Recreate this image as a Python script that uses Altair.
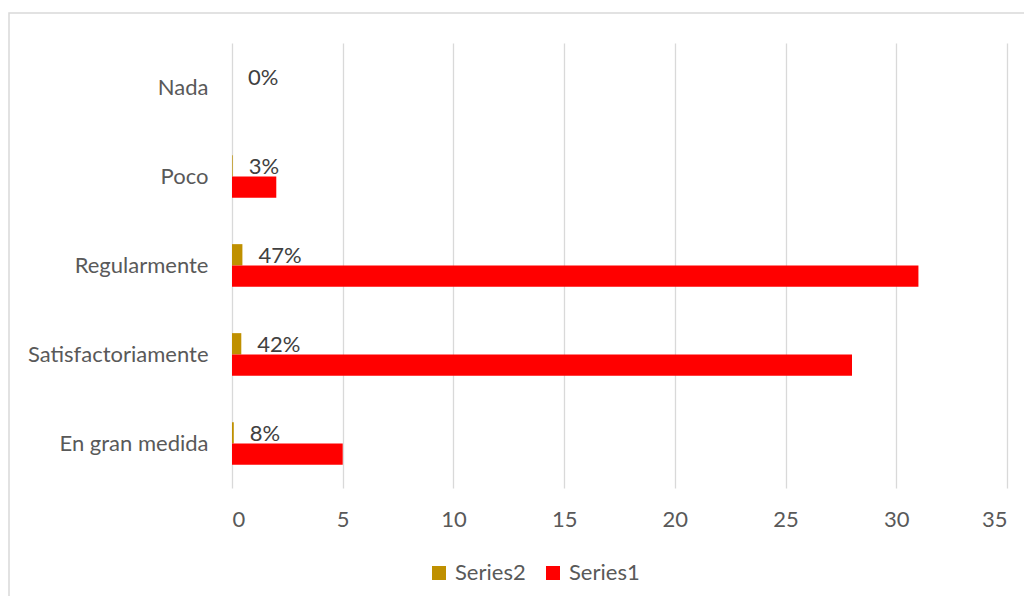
import altair as alt
import pandas as pd

categories = ["Nada", "Poco", "Regularmente", "Satisfactoriamente", "En gran medida"]
series1 = [0, 2, 31, 28, 5]
series2 = [0.0, 0.03, 0.47, 0.42, 0.08]
series_names = ["Series2", "Series1"]
colors = ["#BF9000", "#FF0000"]
x_ticks = [0, 5, 10, 15, 20, 25, 30, 35]

rows = []
for c, v1, v2 in zip(categories, series1, series2):
    rows.append({"cat": c, "series": "Series2", "value": v2})
    rows.append({"cat": c, "series": "Series1", "value": v1})
df = pd.DataFrame(rows)

FONT = "Lato"

y_enc = alt.Y("cat:N", sort=categories,
              scale=alt.Scale(paddingInner=0.52, paddingOuter=0.26),
              axis=alt.Axis(title=None, domain=False, ticks=False, labelPadding=24, labelLimit=0,
                            labelFontSize=22, labelColor="#595959", labelFont=FONT, grid=False))
x_enc = alt.X("value:Q", scale=alt.Scale(domain=[0, 35], nice=False),
              axis=alt.Axis(title=None, values=x_ticks, domain=False, ticks=False, labelPadding=21,
                            labelFontSize=22, labelColor="#595959", labelFont=FONT,
                            grid=True, gridColor="#d9d9d9", gridWidth=1.3))
yoff = alt.YOffset("series:N", sort=series_names, scale=alt.Scale(domain=series_names, paddingInner=0))

bars = alt.Chart(df).mark_bar().encode(
    y=y_enc, x=x_enc, yOffset=yoff,
    color=alt.Color("series:N", scale=alt.Scale(domain=series_names, range=colors),
                    legend=alt.Legend(title=None, orient="none", legendX=196, legendY=519,
                                      direction="horizontal", symbolType="square", symbolSize=196,
                                      symbolStrokeWidth=0, labelFontSize=22, labelColor="#595959",
                                      labelFont=FONT, labelOffset=5, columnPadding=16)),
)

labels = alt.Chart(df).transform_filter(alt.datum.series == "Series2").mark_text(
    align="left", baseline="middle", dx=16, dy=1, fontSize=22, font=FONT, color="#404040"
).encode(
    y=alt.Y("cat:N", sort=categories), x=alt.X("value:Q"), yOffset=yoff,
    text=alt.Text("value:Q", format=".0%"),
)

frame = alt.Chart(pd.DataFrame({"a": [0]})).mark_rect(
    fillOpacity=0, stroke="#d9d9d9", strokeWidth=1.5
).encode(x=alt.value(-223), x2=alt.value(900), y=alt.value(-30), y2=alt.value(700))

chart = alt.layer(frame, bars, labels).properties(
    width=775, height=445,
    autosize=alt.AutoSizeParams(type="none"),
    padding={"left": 224, "top": 35, "right": 17, "bottom": 108},
).configure_view(stroke=None)

chart.save("out.html", embed_options={"renderer": "svg", "actions": False})
